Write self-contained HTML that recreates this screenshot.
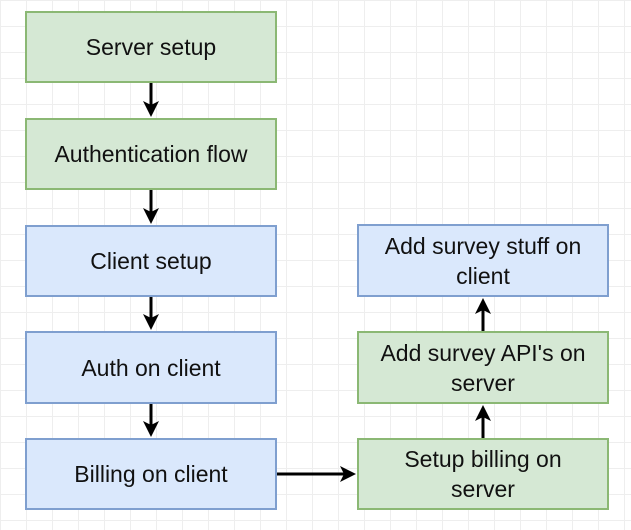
<!DOCTYPE html>
<html><head><style>
html,body{margin:0;padding:0;}
body{width:631px;height:530px;overflow:hidden;background:#fff;
background-image:linear-gradient(#eeeeee 1px,transparent 1px),linear-gradient(90deg,#eeeeee 1px,transparent 1px);background-size:26px 26px;position:relative;font-family:"Liberation Sans",sans-serif;}
.b{position:absolute;box-sizing:border-box;border:2px solid;display:flex;align-items:center;justify-content:center;text-align:center;font-size:23px;color:#111;line-height:30px;}
.g{background:#d5e8d4;border-color:#8bb874;}
.u{background:#dae8fc;border-color:#7f9fcf;}
svg{position:absolute;left:0;top:0;}
</style></head><body>
<div class="b g" style="left:25px;top:11px;width:252px;height:72px;">Server setup</div>
<div class="b g" style="left:25px;top:118px;width:252px;height:72px;">Authentication flow</div>
<div class="b u" style="left:25px;top:225px;width:252px;height:72px;">Client setup</div>
<div class="b u" style="left:25px;top:331px;width:252px;height:73px;">Auth on client</div>
<div class="b u" style="left:25px;top:438px;width:252px;height:72px;">Billing on client</div>
<div class="b u" style="left:357px;top:224px;width:252px;height:73px;">Add survey stuff on<br>client</div>
<div class="b g" style="left:357px;top:331px;width:252px;height:73px;">Add survey API's on<br>server</div>
<div class="b g" style="left:357px;top:438px;width:252px;height:72px;">Setup billing on<br>server</div>
<svg width="631" height="530">
<g stroke="#000" stroke-width="3" fill="none">
<line x1="151" y1="83" x2="151" y2="106"/>
<line x1="151" y1="190" x2="151" y2="213"/>
<line x1="151" y1="297" x2="151" y2="319"/>
<line x1="151" y1="404" x2="151" y2="426"/>
<line x1="277" y1="474" x2="345" y2="474"/>
<line x1="483" y1="438" x2="483" y2="416"/>
<line x1="483" y1="331" x2="483" y2="309"/>
</g>
<g fill="#000">
<polygon points="143,101 151,117 159,101 151,105"/>
<polygon points="143,208 151,224 159,208 151,212"/>
<polygon points="143,314 151,330 159,314 151,318"/>
<polygon points="143,421 151,437 159,421 151,425"/>
<polygon points="340,466 356,474 340,482 344,474"/>
<polygon points="475,421 483,405 491,421 483,417"/>
<polygon points="475,314 483,298 491,314 483,310"/>
</g>
</svg>
</body></html>
